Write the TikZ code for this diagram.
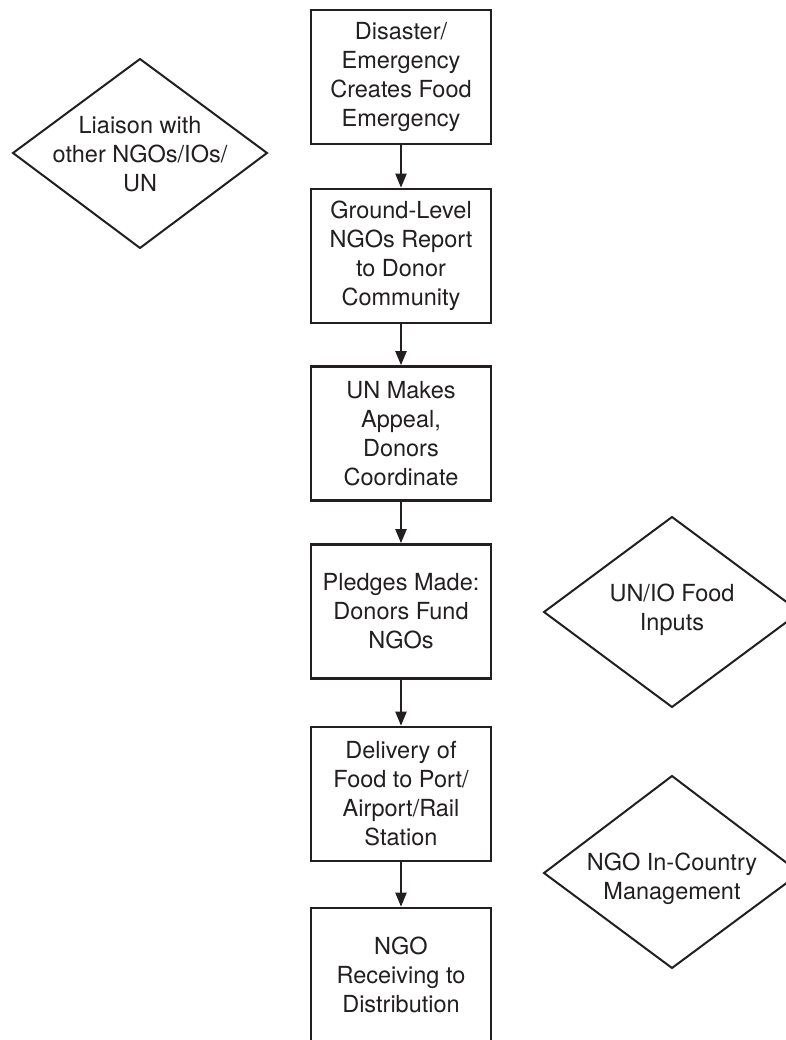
\documentclass[tikz,border=0pt]{standalone}
\usepackage{fontspec}
\setmainfont{TeX Gyre Heros}
\usetikzlibrary{arrows.meta}
\definecolor{ink}{HTML}{231F20}
\tikzset{
  stepbox/.style={draw=ink, line width=2.6pt, minimum width=180pt, minimum height=134pt,
    inner sep=0pt, align=center, text=ink, font=\fontsize{23.5}{29}\selectfont},
  choice/.style={draw=none, align=center, text=ink, inner sep=0pt, font=\fontsize{23.5}{29}\selectfont},
  rhomb/.style={draw=ink, line width=2pt, line join=miter},
  flow/.style={draw=ink, line width=2pt, -{Triangle[length=14pt,width=11pt]}}
}
\begin{document}
\begin{tikzpicture}[x=1pt, y=-1pt]
  \useasboundingbox (0,0) rectangle (786,1040);
  \clip (0,0) rectangle (786,1040);
  \fill[white] (0,0) rectangle (786,1040);

  % main sequence of steps
  \node[stepbox] (s1) at (401,77)  {Disaster/\\Emergency\\Creates Food\\Emergency};
  \node[stepbox] (s2) at (401,256) {Ground-Level\\NGOs Report\\to Donor\\Community};
  \node[stepbox] (s3) at (401,433.5) {UN Makes\\Appeal,\\Donors\\Coordinate};
  \node[stepbox] (s4) at (401,611.5) {Pledges Made:\\Donors Fund\\NGOs};
  \node[stepbox] (s5) at (401,794) {Delivery of\\Food to Port/\\Airport/Rail\\Station};
  \node[stepbox] (s6) at (401,975) {NGO\\Receiving to\\Distribution};

  \draw[flow] (s1.south) -- (s2.north);
  \draw[flow] (s2.south) -- (s3.north);
  \draw[flow] (s3.south) -- (s4.north);
  \draw[flow] (s4.south) -- (s5.north);
  \draw[flow] (s5.south) -- (s6.north);

  % side activities
  \node[choice] (liaison) at (140,154) {Liaison with\\other NGOs/IOs/\\UN};
  \draw[rhomb] (13,153) -- (140,59) -- (267,153) -- (140,248) -- cycle;

  \node[choice] (inputs) at (672,609.5) {UN/IO Food\\Inputs};
  \draw[rhomb] (544,612) -- (672,517) -- (800,612) -- (672,707) -- cycle;

  \node[choice] (mgmt) at (672,878.5) {NGO In-Country\\Management};
  \draw[rhomb] (544,873) -- (672,776) -- (800,873) -- (672,968) -- cycle;
\end{tikzpicture}
\end{document}
